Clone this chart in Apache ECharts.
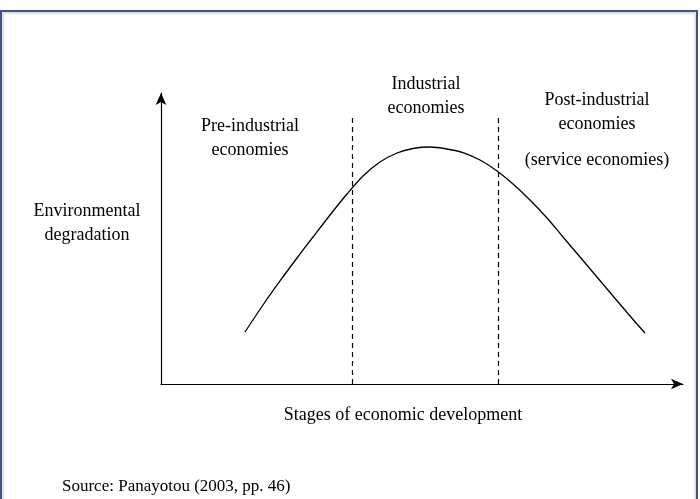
<!DOCTYPE html>
<html>
<head>
<meta charset="utf-8">
<script src="https://cdn.jsdelivr.net/npm/echarts@6/dist/echarts.min.js"></script>
<style>html,body{margin:0;padding:0;background:#fff;}#c{width:700px;height:499px;}</style>
</head>
<body>
<div id="c"></div>
<script>
// Curve (stage of development, degradation)
const stageX = [16.09, 19.54, 22.80, 26.05, 29.12, 32.38, 35.63, 38.70, 41.95, 45.21, 48.28, 51.53, 54.79, 57.85, 61.11, 64.37, 67.43, 70.69, 73.95, 77.01, 80.27, 83.52, 86.59, 89.85, 92.72];
const degradationY = [17.87, 27.15, 35.40, 43.30, 50.52, 58.08, 65.29, 71.48, 76.29, 79.38, 80.93, 81.44, 80.76, 79.55, 76.98, 73.20, 68.73, 63.23, 57.04, 50.52, 43.64, 36.77, 30.24, 23.37, 17.53];
const dividers = [36.6, 64.6];
const dividerTop = 92.4;
const preLabel = ["Pre-industrial", "economies"];
const indLabel = ["Industrial", "economies"];
const postLabel = ["Post-industrial", "economies"];
const serviceLabel = "(service economies)";
const xTitle = "Stages of economic development";
const yTitle = ["Environmental", "degradation"];
const sourceNote = "Source: Panayotou (2003, pp. 46)";

const chart = echarts.init(document.getElementById('c'));
const serif = '"Liberation Serif", "DejaVu Serif", serif';
const pts = stageX.map((x, i) => [x, degradationY[i]]);
const t = (text, x, y, size, align) => ({
  type: 'text', x: x, y: y, silent: true,
  style: { text: text, font: size + 'px ' + serif, fill: '#000', align: align || 'center', verticalAlign: 'middle' }
});
const fs = 18;
chart.setOption({
  animation: false,
  grid: { left: 161, right: 17, top: 93, bottom: 115 },
  xAxis: {
    type: 'value', min: 0, max: 100,
    axisLine: { show: true, onZero: false, symbol: ['none', 'arrow'], symbolSize: [8, 12], lineStyle: { color: '#000', width: 1.2 } },
    axisTick: { show: false }, axisLabel: { show: false }, splitLine: { show: false }
  },
  yAxis: {
    type: 'value', min: 0, max: 100,
    axisLine: { show: true, onZero: false, symbol: ['none', 'arrow'], symbolSize: [8, 12], lineStyle: { color: '#000', width: 1.2 } },
    axisTick: { show: false }, axisLabel: { show: false }, splitLine: { show: false }
  },
  series: [{
    type: 'line', data: pts, smooth: 0.3, showSymbol: false,
    lineStyle: { color: '#000', width: 1.3 },
    markLine: {
      silent: true, symbol: ['none', 'none'], label: { show: false },
      lineStyle: { color: '#000', type: [5, 4], width: 1.2 },
      data: dividers.map(d => [{ coord: [d, 0] }, { coord: [d, dividerTop] }])
    }
  }],
  graphic: [
    { type: 'rect', shape: { x: 1, y: 11, width: 696, height: 500 }, style: { fill: 'none', stroke: '#44557a', lineWidth: 2 } },
    { type: 'rect', shape: { x: 3, y: 13, width: 692, height: 500 }, style: { fill: 'none', stroke: '#b9c3d6', lineWidth: 1 } },
    t(preLabel[0], 250, 126, fs), t(preLabel[1], 250, 150, fs),
    t(indLabel[0], 426, 84, fs), t(indLabel[1], 426, 108, fs),
    t(postLabel[0], 597, 100, fs), t(postLabel[1], 597, 124, fs),
    t(serviceLabel, 597, 160, fs),
    t(yTitle[0], 87, 211, fs), t(yTitle[1], 87, 235, fs),
    t(xTitle, 403, 415, fs),
    t(sourceNote, 62, 487, 17, 'left')
  ]
});
</script>
</body>
</html>
